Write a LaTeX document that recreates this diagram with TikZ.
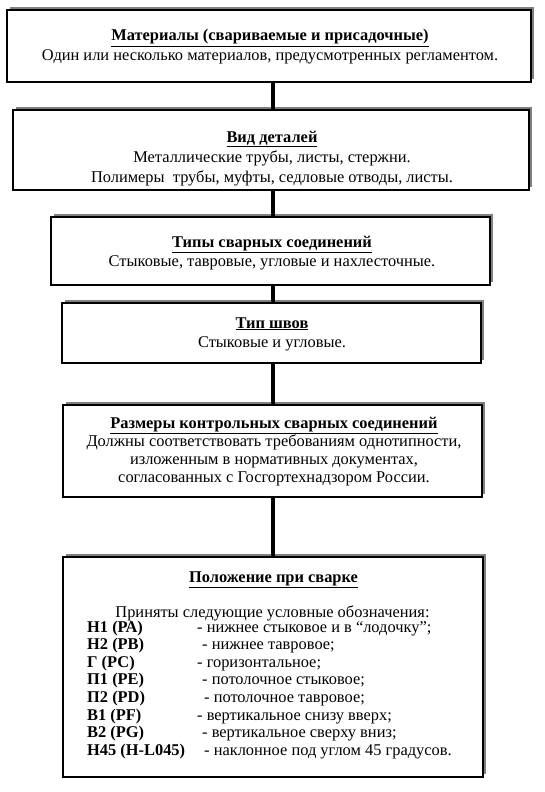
\documentclass[tikz,border=0pt]{standalone}
\usepackage{fontspec}
\setmainfont{Liberation Serif}
\usetikzlibrary{shadows}
\begin{document}
\begin{tikzpicture}[x=1pt,y=-1pt,
  box/.style={draw=black, line width=1.1pt, fill=white, inner sep=0pt, outer sep=0pt, rectangle,
    general shadow={fill=black!50, shadow xshift=3pt, shadow yshift=3pt}},
  conn/.style={line width=4pt, black},
  txt/.style={anchor=base, inner sep=0pt, font=\fontsize{16.4}{19}\selectfont},
  head/.style={txt, font=\fontsize{16.4}{19}\selectfont\bfseries},
  lbl/.style={anchor=base west, inner sep=0pt, font=\fontsize{16.4}{19}\selectfont\bfseries},
  desc/.style={anchor=base west, inner sep=0pt, font=\fontsize{16.4}{19}\selectfont}]
\useasboundingbox (0,0) rectangle (545,792);
% boxes
\node[box, minimum width=524pt, minimum height=72pt] (b1) at (269,46) {};
\node[box, minimum width=516pt, minimum height=80pt] (b2) at (271,150) {};
\node[box, minimum width=439pt, minimum height=68pt] (b3) at (270.5,251) {};
\node[box, minimum width=419pt, minimum height=60pt] (b4) at (271.5,333) {};
\node[box, minimum width=419pt, minimum height=92pt] (b5) at (272.5,451) {};
\node[box, minimum width=420pt, minimum height=220pt] (b6) at (273,667) {};
% connectors
\draw[conn] (b1.south -| b5) -- (b2.north -| b5);
\draw[conn] (b2.south -| b5) -- (b3.north -| b5);
\draw[conn] (b3.south -| b5) -- (b4.north -| b5);
\draw[conn] (b4.south -| b5) -- (b5.north);
\draw[conn] (b5.south) -- (b6.north -| b5);
% box 1
\node[head] (t1a) at (270,41) {\underline{Материалы (свариваемые и присадочные)}};
\node[txt] (t1b) at (270,61) {Один или несколько материалов, предусмотренных регламентом.};
% box 2
\node[head] (t2a) at (272,142) {\underline{Вид деталей}};
\node[txt] (t2b) at (272,162) {Металлические трубы, листы, стержни.};
\node[txt] (t2c) at (272,182) {Полимеры\ \ трубы, муфты, седловые отводы, листы.};
% box 3
\node[head] (t3a) at (272,247) {\underline{Типы сварных соединений}};
\node[txt] (t3b) at (272,266) {Стыковые, тавровые, угловые и нахлесточные.};
% box 4
\node[head] (t4a) at (272,328) {\underline{Тип швов}};
\node[txt] (t4b) at (272,347) {Стыковые и угловые.};
% box 5
\node[head] (t5a) at (274,428) {\underline{Размеры контрольных сварных соединений}};
\node[txt] (t5b) at (274,446) {Должны соответствовать требованиям однотипности,};
\node[txt] (t5c) at (274,464) {изложенным в нормативных документах,};
\node[txt] (t5d) at (274,482) {согласованных с Госгортехнадзором России.};
% box 6
\node[head] (t6a) at (273.5,582) {\underline{Положение при сварке}};
\node[txt] (t6b) at (272.5,617) {Приняты следующие условные обозначения:};
\node[lbl] (l1) at (87,632) {Н1 (РА)};
\node[lbl] (l2) at (87,649.6) {Н2 (РВ)};
\node[lbl] (l3) at (87,667.2) {Г (РС)};
\node[lbl] (l4) at (87,684.8) {П1 (РЕ)};
\node[lbl] (l5) at (87,702.4) {П2 (PD)};
\node[lbl] (l6) at (87,720) {В1 (PF)};
\node[lbl] (l7) at (87,737.6) {В2 (PG)};
\node[lbl] (l8) at (87,755.2) {Н45 (H-L045)};
\node[desc] (d1) at (197,632) {- нижнее стыковое и в “лодочку”;};
\node[desc] (d2) at (202,649.6) {- нижнее тавровое;};
\node[desc] (d3) at (197,667.2) {- горизонтальное;};
\node[desc] (d4) at (202,684.8) {- потолочное стыковое;};
\node[desc] (d5) at (204,702.4) {- потолочное тавровое;};
\node[desc] (d6) at (197,720) {- вертикальное снизу вверх;};
\node[desc] (d7) at (202,737.6) {- вертикальное сверху вниз;};
\node[desc] (d8) at (204,755.2) {- наклонное под углом 45 градусов.};
\end{tikzpicture}
\end{document}
